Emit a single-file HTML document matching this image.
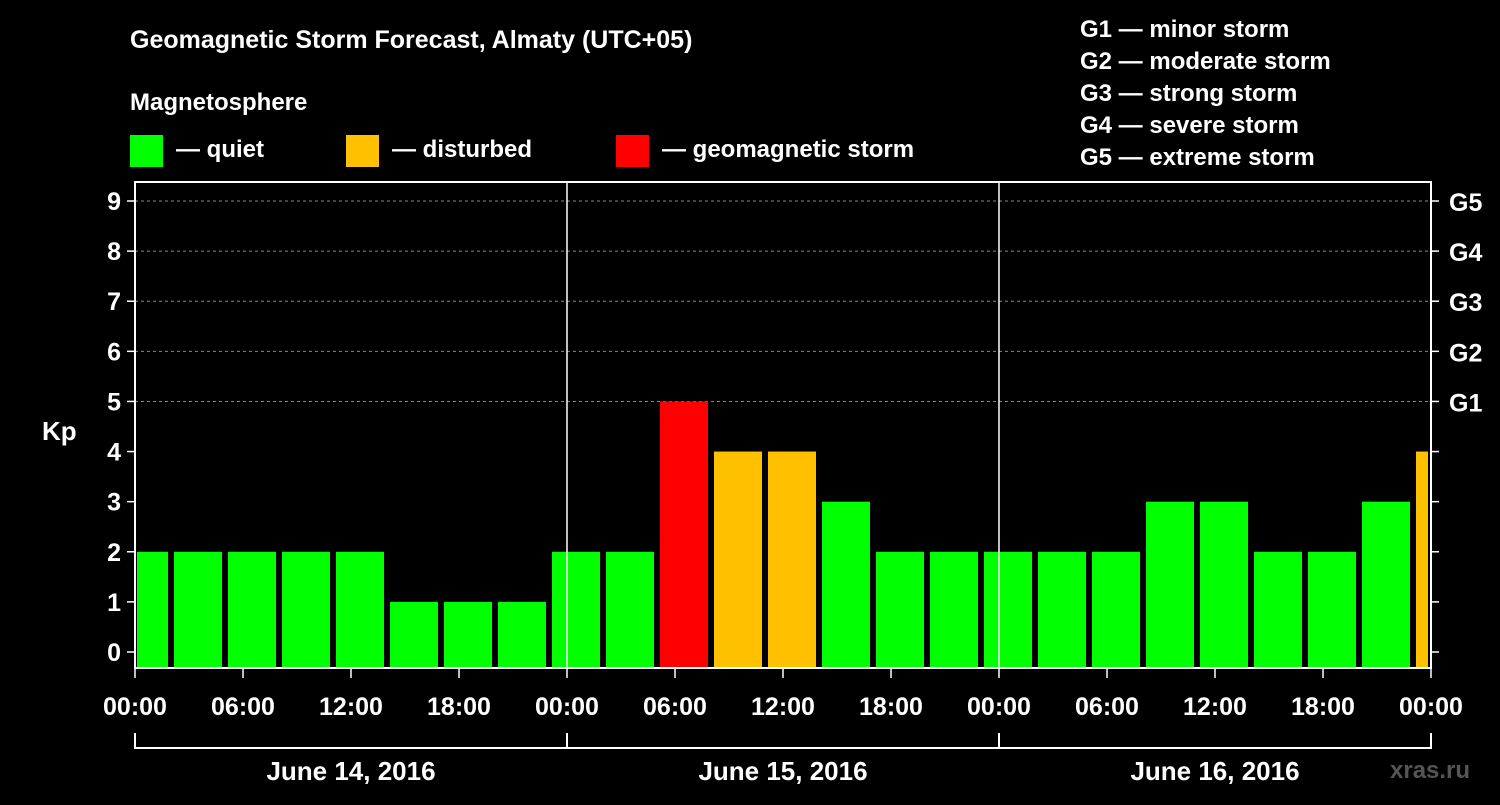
<!DOCTYPE html>
<html><head><meta charset="utf-8"><style>
body{margin:0;background:#000;width:1500px;height:800px;overflow:hidden}
svg text{font-family:"Liberation Sans",sans-serif;font-weight:bold;fill:#fff}
</style></head><body>
<svg id="c" width="1500" height="800">
<text x="130" y="48" font-size="25">Geomagnetic Storm Forecast, Almaty (UTC+05)</text>
<text x="130" y="110" font-size="24">Magnetosphere</text>
<rect x="130" y="135" width="33" height="32" fill="#00ff00"/>
<text x="176" y="157" font-size="24">— quiet</text>
<rect x="346" y="135" width="33" height="32" fill="#ffc000"/>
<text x="392" y="157" font-size="24">— disturbed</text>
<rect x="616" y="135" width="33" height="32" fill="#ff0000"/>
<text x="662" y="157" font-size="24">— geomagnetic storm</text>
<g font-size="24">
<text x="1080" y="37">G1 — minor storm</text>
<text x="1080" y="69">G2 — moderate storm</text>
<text x="1080" y="101">G3 — strong storm</text>
<text x="1080" y="133">G4 — severe storm</text>
<text x="1080" y="165">G5 — extreme storm</text>
</g>
<g id="plot"></g>
<text x="42" y="440" font-size="26">Kp</text>
<text x="1390" y="778" font-size="24" fill="#555" style="fill:#555">xras.ru</text>
</svg>
<script>
const kpValues=[2,2,2,2,2,1,1,1,2,2,5,4,4,3,2,2,2,2,2,3,3,2,2,3,4];
const yTicks=[0,1,2,3,4,5,6,7,8,9];
const gLabels=[[5,"G1"],[6,"G2"],[7,"G3"],[8,"G4"],[9,"G5"]];
const xTickLabels=["00:00","06:00","12:00","18:00","00:00","06:00","12:00","18:00","00:00","06:00","12:00","18:00","00:00"];
const dayLabels=["June 14, 2016","June 15, 2016","June 16, 2016"];
const firstBinHour=-1, binHours=3, totalHours=72;
const L=135,R=1431,T=182,B=668;
const x=h=>L+(R-L)*h/totalHours;
const y=v=>652-(652-201)*v/9;
const ns="http://www.w3.org/2000/svg";
const g=document.getElementById('plot');
function mk(tag,attrs,parent){const e=document.createElementNS(ns,tag);for(const k in attrs)e.setAttribute(k,attrs[k]);(parent||g).appendChild(e);return e;}
yTicks.forEach(v=>{
 if(v>=5){const l=mk('line',{x1:L,x2:R,y1:y(v),y2:y(v),stroke:'#888','stroke-dasharray':'3,3','stroke-width':1});
 
 }
 const t1=mk('line',{x1:L-8,x2:L,y1:y(v),y2:y(v),stroke:'#fff','stroke-width':1.5});
 
 
 const t2=mk('line',{x1:R,x2:R+8,y1:y(v),y2:y(v),stroke:'#fff','stroke-width':1.5});
 
 
 const tx=mk('text',{x:L-14,y:y(v)+9,'text-anchor':'end','font-size':25});
 tx.textContent=v;
 
 
});
gLabels.forEach(([v,s])=>{
 const tx=mk('text',{x:R+18,y:y(v)+10,'font-size':25});
 tx.textContent=s;
 
 
});
kpValues.forEach((v,i)=>{
 let h0=firstBinHour+i*binHours,h1=h0+binHours;
 let x0=Math.max(x(Math.max(h0,0))+3,L+2),x1=Math.min(x(Math.min(h1,totalHours))-3,R-3);
 if(h0<0)x0=L+2;
 const col=v>=5?'#ff0000':v>=4?'#ffc000':'#00ff00';
 const r=mk('rect',{x:x0,y:y(v),width:x1-x0,height:B-y(v),fill:col});
 
 
});
[24,48].forEach(h=>{const l=mk('line',{x1:x(h),x2:x(h),y1:T,y2:B,stroke:'#fff','stroke-width':1.5});
 
 });
const fr=mk('rect',{x:L,y:T,width:R-L,height:B-T,fill:'none',stroke:'#fff','stroke-width':2});


xTickLabels.forEach((s,i)=>{
 const h=i*6;
 const t=mk('line',{x1:x(h),x2:x(h),y1:B,y2:B+10,stroke:'#fff','stroke-width':1.5});
 
 
 const tx=mk('text',{x:x(h),y:715,'text-anchor':'middle','font-size':25});
 tx.textContent=s;
 
 
});
const bl=mk('line',{x1:L,x2:R,y1:748,y2:748,stroke:'#fff','stroke-width':2});


[0,24,48,72].forEach(h=>{const l=mk('line',{x1:x(h),x2:x(h),y1:733,y2:749,stroke:'#fff','stroke-width':2});
 
 });
dayLabels.forEach((s,i)=>{
 const tx=mk('text',{x:x(i*24+12),y:780,'text-anchor':'middle','font-size':26});
 tx.textContent=s;
 
 
});
</script>
</body></html>
